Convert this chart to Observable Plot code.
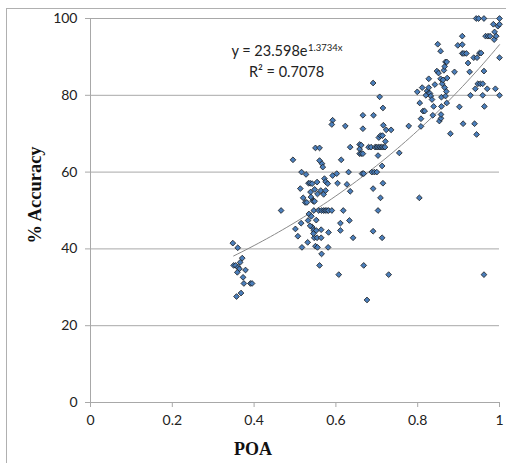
<!DOCTYPE html>
<html>
<head>
<meta charset="utf-8">
<script src="https://cdn.jsdelivr.net/npm/d3@7"></script>
<script src="https://cdn.jsdelivr.net/npm/@observablehq/plot@0.6"></script>
<style>
  html, body { margin: 0; padding: 0; background: #fff; }
  #wrap { position: relative; width: 506px; height: 463px; overflow: hidden; }
  #frame { position: absolute; left: 6px; top: 8px; width: 510px; height: 470px;
           border-left: 1px solid #b0b0b0; border-top: 1px solid #b0b0b0; pointer-events: none; }
</style>
</head>
<body>
<div id="wrap"><div id="frame"></div></div>
<script>
// POA values (x)
const poa = [
  0.348,0.360,0.350,0.355,0.361,0.366,0.371,0.364,0.359,0.379,0.373,0.375,0.391,0.395,0.368,0.357,
  0.466,0.495,0.501,0.507,
  0.513,0.516,0.520,0.515,0.517,0.527,0.525,0.529,0.531,0.533,0.534,0.532,0.537,0.538,0.539,0.544,
  0.542,0.542,0.546,0.546,0.550,0.560,0.547,0.554,0.552,0.550,0.555,0.554,0.555,0.560,0.566,0.568,
  0.560,0.563,0.564,0.564,0.565,0.570,0.558,0.565,0.570,0.574,0.578,0.582,0.590,0.572,0.575,0.575,
  0.580,0.582,0.581,0.592,0.592,0.590,0.602,0.604,0.607,0.611,0.611,0.613,0.618,0.623,0.627,0.631,
  0.633,0.635,0.635,0.642,0.540,0.537,0.545,0.548,0.552,0.545,0.548,
  0.658,0.658,0.658,0.662,0.666,0.662,0.666,0.666,0.664,0.668,0.668,0.676,0.680,0.686,0.691,0.691,
  0.691,0.692,0.688,0.694,0.700,0.696,0.700,0.704,0.708,0.712,0.716,0.720,0.703,0.703,0.705,0.707,
  0.709,0.709,0.714,0.713,0.713,0.715,0.715,0.716,0.721,0.723,0.729,0.735,0.755,0.778,
  0.799,0.804,0.805,0.808,0.808,0.811,0.813,0.817,0.823,0.826,0.820,0.827,0.827,0.830,0.832,0.835,
  0.837,0.839,0.842,0.849,0.847,0.851,0.853,0.856,0.856,0.857,0.857,0.858,0.858,0.860,0.862,0.864,
  0.866,0.868,0.871,0.866,0.870,0.868,0.871,0.872,0.880,0.890,0.898,0.902,0.909,0.909,0.909,0.913,
  0.919,0.911,0.923,0.927,0.929,0.937,0.939,0.941,0.943,0.949,0.962,0.944,0.945,0.947,0.951,0.955,
  0.953,0.959,0.959,0.962,0.963,0.962,0.966,0.972,0.977,0.970,0.985,0.987,0.988,0.990,0.992,0.996,
  1.000,1.000,1.000,1.000
];
// % Accuracy values (y)
const accuracy = [
  41.5,40.3,35.7,35.7,35.2,36.5,37.6,34.8,33.9,34.5,32.6,31.0,31.0,31.0,28.5,27.6,
  50.0,63.2,45.2,43.3,
  55.7,60.0,53.3,46.7,40.4,59.4,52.1,52.1,41.7,57.1,49.1,47.4,57.1,54.8,53.5,52.6,
  57.0,45.7,44.8,50.0,66.3,66.3,42.9,42.9,44.8,40.7,40.4,57.4,54.3,63.0,62.2,61.3,
  35.7,55.2,45.0,42.9,38.7,54.2,50.0,50.0,50.0,50.0,50.0,50.0,50.0,58.3,57.5,55.2,
  57.0,44.3,40.4,59.1,73.5,72.4,59.6,57.1,33.3,46.7,44.8,63.2,50.0,72.0,56.8,60.0,
  47.4,66.5,55.0,42.9,48.5,46.0,44.0,55.5,47.5,52.4,52.4,
  67.2,66.0,64.8,64.8,64.8,67.0,74.8,71.3,59.6,59.6,35.7,26.7,66.5,66.5,83.2,55.7,
  44.6,74.8,60.0,60.0,60.0,66.5,66.5,66.5,66.5,66.5,66.5,66.5,50.0,64.3,69.0,79.6,
  53.3,69.5,69.5,61.6,42.9,57.1,76.7,72.2,68.0,71.0,33.3,71.0,65.0,72.0,
  80.9,53.3,78.0,73.9,71.9,82.0,75.9,75.9,81.1,80.5,80.0,84.3,82.0,80.5,79.8,78.9,
  74.8,77.1,82.8,93.3,86.3,85.8,73.3,91.5,84.3,74.0,75.0,79.5,77.1,83.0,84.0,86.5,
  87.5,88.7,88.7,82.0,81.0,79.8,78.0,84.5,70.0,86.1,93.0,77.0,95.4,93.2,90.9,90.9,
  90.9,72.6,88.4,86.1,80.0,89.8,72.6,81.7,100,100,100,69.8,89.8,83.0,91.0,91.0,
  83.0,83.0,80.0,86.3,77.1,33.3,95.4,95.4,95.4,81.7,98.5,94.5,96.5,81.7,95.4,98.0,
  100,98.5,89.8,80.0
];
const yTicks = [0, 20, 40, 60, 80, 100];
const xTicks = [0, 0.2, 0.4, 0.6, 0.8, 1];
const xTickLabels = ["0", "0.2", "0.4", "0.6", "0.8", "1"];
// Trendline shown on chart: y = 23.598 e^(1.3734 x), R² = 0.7078
const trendA = 23.598, trendB = 1.3734;
const trendX = d3.range(0.35, 1.0001, 0.01);
const eqMain = "y = 23.598e";
const eqSup = "1.3734x";
const eqR2 = "R² = 0.7078";

const points = poa.map((x, i) => ({x, y: accuracy[i]}));
const trend = trendX.map(x => ({x, y: trendA * Math.exp(trendB * x)}));

const gray = "#a8a8a8";
const sans = "Lato, 'Open Sans', sans-serif";
const serif = "'Liberation Serif', 'DejaVu Serif', serif";

const chart = Plot.plot({
  width: 506,
  height: 463,
  marginLeft: 90,
  marginRight: 7,
  marginTop: 18,
  marginBottom: 61,
  style: {fontFamily: sans, fontSize: "14px", color: "#222", background: "#fff"},
  x: {domain: [0, 1]},
  y: {domain: [0, 100]},
  marks: [
    Plot.gridY(yTicks, {stroke: gray, strokeOpacity: 1}),
    Plot.ruleY([0], {stroke: gray}),
    Plot.ruleX([0], {stroke: gray}),
    Plot.axisY({ticks: yTicks, tickSize: 5, tickPadding: 8, stroke: gray, strokeOpacity: 1, label: null, fontSize: 14}),
    Plot.axisX({ticks: xTicks, tickFormat: (d, i) => xTickLabels[i], tickSize: 5, tickPadding: 8, stroke: gray, strokeOpacity: 1, label: null, fontSize: 14}),
    Plot.line(trend, {x: "x", y: "y", stroke: "#8a8a8a", strokeWidth: 1}),
    Plot.dot(points, {x: "x", y: "y", symbol: "diamond2", r: 2.6, fill: "#4a7ebb", stroke: "#1a1a1a", strokeWidth: 0.8}),
    Plot.text([eqMain], {frameAnchor: "top-left", dx: 217, dy: 37.5, textAnchor: "end", lineAnchor: "bottom", fontSize: 14.5, fill: "#222"}),
    Plot.text([eqSup], {frameAnchor: "top-left", dx: 217.5, dy: 32.5, textAnchor: "start", lineAnchor: "bottom", fontSize: 9.5, fill: "#222"}),
    Plot.text([eqR2], {frameAnchor: "top-left", dx: 196, dy: 58, textAnchor: "middle", lineAnchor: "bottom", fontSize: 14.5, fill: "#222"}),
    Plot.text(["POA"], {frameAnchor: "bottom", dx: -42, dy: 47, lineAnchor: "middle", fontFamily: serif, fontWeight: "bold", fontSize: 18, fill: "#111"}),
    Plot.text(["% Accuracy"], {frameAnchor: "left", dx: -55, dy: 33, rotate: -90, lineAnchor: "middle", fontFamily: serif, fontWeight: "bold", fontSize: 18.5, fill: "#111"})
  ]
});
document.getElementById("wrap").prepend(chart);
</script>
</body>
</html>
